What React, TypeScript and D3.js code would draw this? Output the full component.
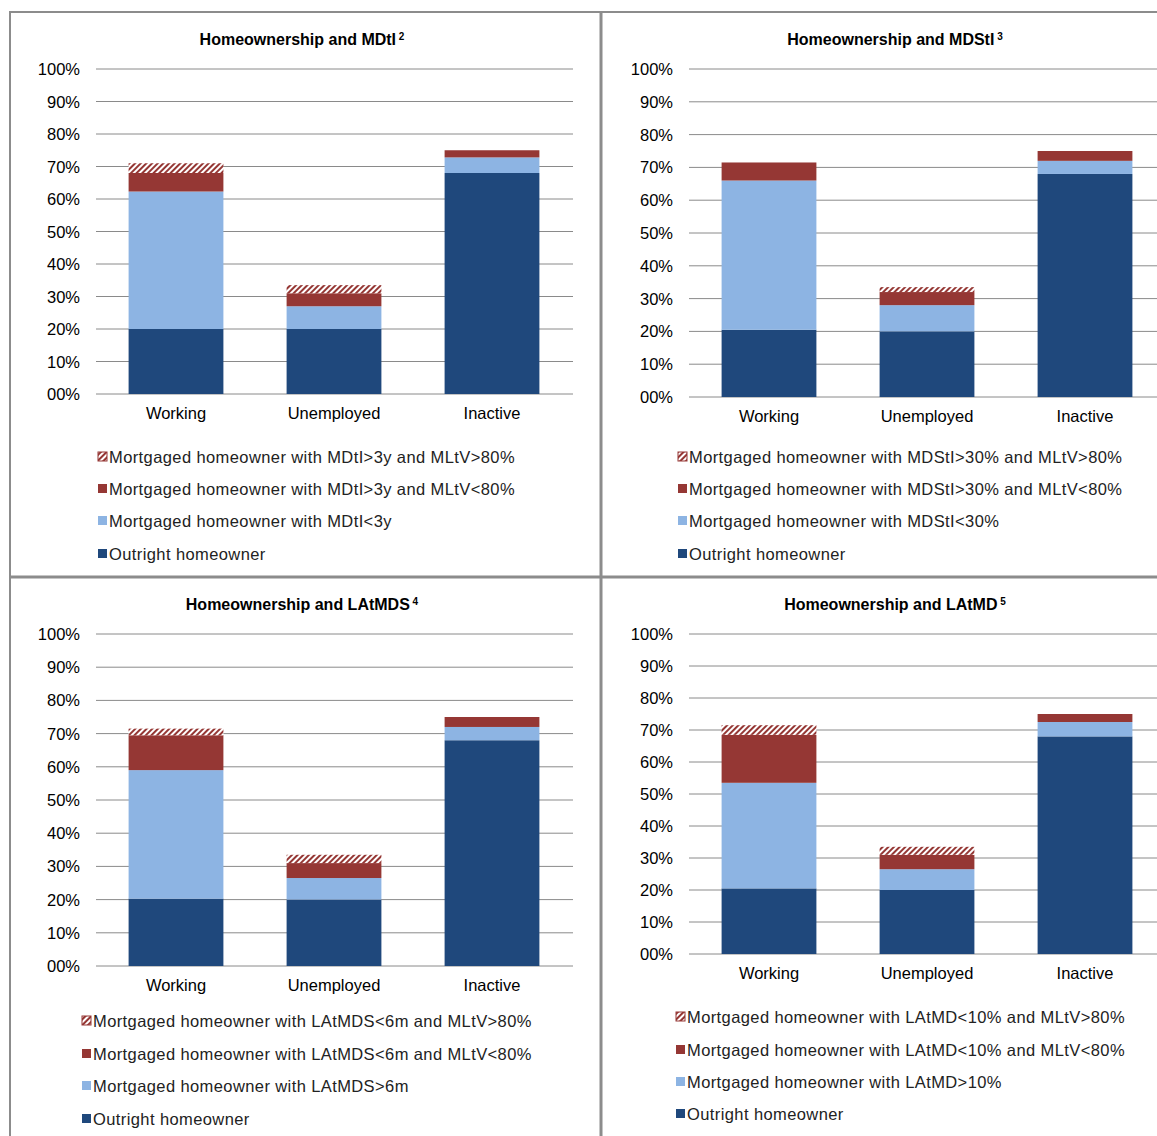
import * as d3 from 'd3';

const categories = ['Working', 'Unemployed', 'Inactive'];
const tickLabels = ['00%', '10%', '20%', '30%', '40%', '50%', '60%', '70%', '80%', '90%', '100%'];

// stacked segments per panel: [outright, mortgaged low, red, hatched]
const mdtiValues = [[20, 42.3, 5.7, 3], [20, 7, 4, 2.5], [68, 4.8, 2.2, 0]];
const mdstiValues = [[20.5, 45.5, 5.5, 0], [20, 8, 4, 1.5], [68, 4, 3, 0]];
const latmdsValues = [[20.3, 38.7, 10.5, 2], [20, 6.5, 4.5, 2.5], [68, 4, 3, 0]];
const latmdValues = [[20.5, 33, 15, 3], [20, 6.5, 4.5, 2.5], [68, 4.5, 2.5, 0]];

const mdtiLegend = ['Mortgaged homeowner with MDtI>3y and MLtV>80%', 'Mortgaged homeowner with MDtI>3y and MLtV<80%', 'Mortgaged homeowner with MDtI<3y', 'Outright homeowner'];
const mdstiLegend = ['Mortgaged homeowner with MDStI>30% and MLtV>80%', 'Mortgaged homeowner with MDStI>30% and MLtV<80%', 'Mortgaged homeowner with MDStI<30%', 'Outright homeowner'];
const latmdsLegend = ['Mortgaged homeowner with LAtMDS<6m and MLtV>80%', 'Mortgaged homeowner with LAtMDS<6m and MLtV<80%', 'Mortgaged homeowner with LAtMDS>6m', 'Outright homeowner'];
const latmdLegend = ['Mortgaged homeowner with LAtMD<10% and MLtV>80%', 'Mortgaged homeowner with LAtMD<10% and MLtV<80%', 'Mortgaged homeowner with LAtMD>10%', 'Outright homeowner'];

const fills = ['#1f487c', '#8db4e3', '#953734', 'url(#hatch)'];
const legendFills = ['url(#hatch)', '#953734', '#8db4e3', '#1f487c'];
const font = '"Liberation Sans", Arial, sans-serif';

interface PanelProps {
  title: string; sup: string; values: number[][]; legend: string[];
  x0: number; top: number; bottom: number; gridRight: number;
  legendX: number; legendY: number[]; titleY: number;
}

const Panel = ({ title, sup, values, legend, x0, top, bottom, gridRight, legendX, legendY, titleY }: PanelProps) => {
  const y = d3.scaleLinear().domain([0, 100]).range([bottom, top]);
  const x = d3.scaleBand().domain(categories).range([x0 + 17, x0 + 491]).paddingInner(0.4).paddingOuter(0.2);
  const stack = d3.stack<number[]>().keys(['0', '1', '2', '3']).value((d, k) => d[+k]);
  const series = stack(values);
  return (
    <g>
      <text x={x0 + 222} y={titleY} textAnchor="middle" fontFamily={font} fontWeight="bold" fontSize={16}>
        {title}<tspan fontSize={10} dy={-5}>{' ' + sup}</tspan>
      </text>
      {tickLabels.map((t, i) => (
        <g key={t}>
          <line x1={x0 + 16} x2={gridRight} y1={y(i * 10)} y2={y(i * 10)} stroke="#8a8a8a" strokeWidth={1} />
          <text x={x0} y={y(i * 10) + 6} textAnchor="end" fontFamily={font} fontSize={16.5}>{t}</text>
        </g>
      ))}
      {series.map((s, si) => s.map((d, ci) => (
        d[1] - d[0] > 0 ? (
          <rect key={`${si}-${ci}`} x={x(categories[ci])} width={x.bandwidth()} y={y(d[1])}
            height={y(d[0]) - y(d[1])} fill={fills[si]} />
        ) : null
      )))}
      {categories.map(c => (
        <text key={c} x={(x(c) ?? 0) + x.bandwidth() / 2} y={bottom + 25} textAnchor="middle" fontFamily={font} fontSize={16.5}>{c}</text>
      ))}
      {legend.map((l, i) => (
        <g key={l}>
          <rect x={legendX} y={legendY[i] - 5} width={9} height={9} fill={legendFills[i]} stroke={i === 0 ? '#953734' : 'none'} />
          <text x={legendX + 11} y={legendY[i] + 6} fontFamily={font} fontSize={16.5} letterSpacing={0.4} fill="#222">{l}</text>
        </g>
      ))}
    </g>
  );
};

export default function App() {
  return (
    <svg width={1157} height={1136} style={{ position: 'absolute', left: 0, top: 0, background: '#fff' }}>
      <defs>
        <pattern id="hatch" patternUnits="userSpaceOnUse" width={4} height={4} patternTransform="rotate(45)">
          <rect width={4} height={4} fill="#953734" />
          <rect width={2} height={4} fill="#fff" />
        </pattern>
      </defs>
      <rect x={10} y={12} width={1150} height={1130} fill="none" stroke="#8c8c8c" strokeWidth={2} />
      <line x1={601} x2={601} y1={12} y2={1136} stroke="#8c8c8c" strokeWidth={3} />
      <line x1={10} x2={1157} y1={577} y2={577} stroke="#8c8c8c" strokeWidth={3} />
      <Panel title="Homeownership and MDtI" sup="2" values={mdtiValues} legend={mdtiLegend}
        x0={80} top={69} bottom={394} gridRight={573} legendX={98} legendY={[457, 489, 521, 554]} titleY={45} />
      <Panel title="Homeownership and MDStI" sup="3" values={mdstiValues} legend={mdstiLegend}
        x0={673} top={69} bottom={397} gridRight={1157} legendX={678} legendY={[457, 489, 521, 554]} titleY={45} />
      <Panel title="Homeownership and LAtMDS" sup="4" values={latmdsValues} legend={latmdsLegend}
        x0={80} top={634} bottom={966} gridRight={573} legendX={82} legendY={[1021, 1054, 1086, 1119]} titleY={610} />
      <Panel title="Homeownership and LAtMD" sup="5" values={latmdValues} legend={latmdLegend}
        x0={673} top={634} bottom={954} gridRight={1157} legendX={676} legendY={[1017, 1050, 1082, 1114]} titleY={610} />
    </svg>
  );
}
